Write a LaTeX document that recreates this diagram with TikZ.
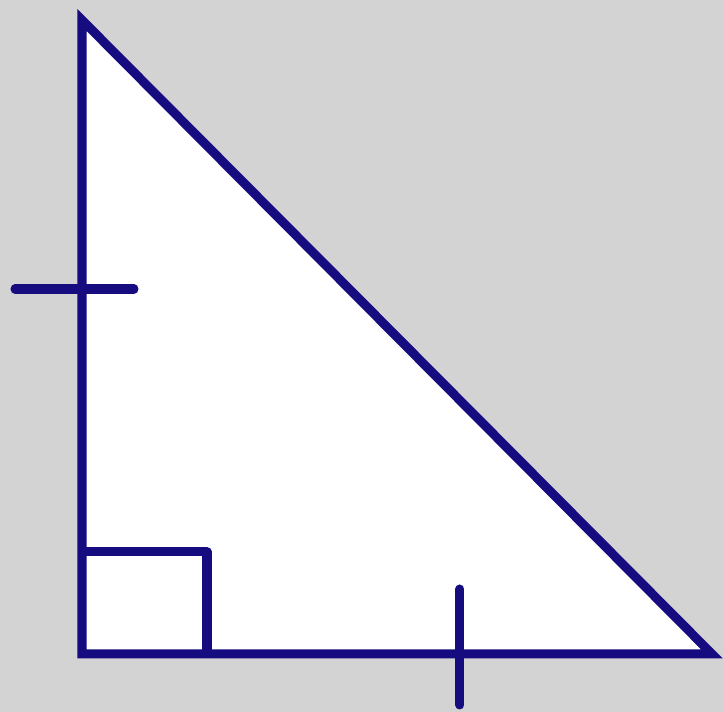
\documentclass[tikz,border=0pt]{standalone}
\usetikzlibrary{positioning}
\definecolor{bggray}{RGB}{211,211,211}
\definecolor{edgeblue}{RGB}{22,12,128}
\begin{document}
\begin{tikzpicture}[
x=0.01cm,y=-0.01cm,
edge/.style={
draw=edgeblue,
line width=0.09cm,
line join=miter
},
tick/.style={
draw=edgeblue,
line width=0.09cm,
line cap=round
},
rightangle/.style={
draw=edgeblue,
line width=0.09cm,
line join=round
}
]

% =======================
% BACKGROUND
% =======================

\fill[bggray] (0,0) rectangle (723,712);
\useasboundingbox (0,0) rectangle (723,712);

% =======================
% TRIANGLE
% =======================

\coordinate (top) at (82,20);
\coordinate (corner) at (82,654);
\coordinate (right) at (712,654);

\filldraw[edge,fill=white] (top) -- (corner) -- (right) -- cycle;

% =======================
% RIGHT ANGLE MARK
% =======================

\coordinate (sqtop) at (82,552);
\coordinate (sqcorner) at (207,552);
\coordinate (sqbottom) at (207,654);

\draw[rightangle] (sqtop) -- (sqcorner) -- (sqbottom);

% =======================
% EQUAL SIDE TICKS
% =======================

\coordinate (tickL1) at (15,289);
\coordinate (tickL2) at (134,289);
\coordinate (tickB1) at (460,589);
\coordinate (tickB2) at (460,705);

\draw[tick] (tickL1) -- (tickL2);
\draw[tick] (tickB1) -- (tickB2);

\end{tikzpicture}
\end{document}
